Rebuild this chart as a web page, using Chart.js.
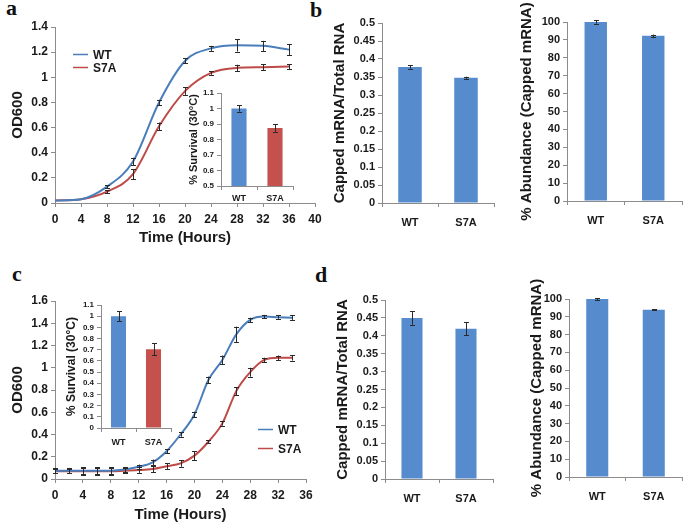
<!DOCTYPE html>
<html>
<head>
<meta charset="utf-8">
<script src="https://cdn.jsdelivr.net/npm/chart.js@4/dist/chart.umd.min.js"></script>
<style>
  body { margin: 0; background: #fff; width: 685px; height: 527px; position: relative; overflow: hidden; }
  canvas { position: absolute; }
  .tag { position: absolute; font: bold 22px "Liberation Serif", "Times New Roman", serif; line-height: 22px; color: #111; }
</style>
</head>
<body>
<div class="tag" style="left:6px;top:-3px">a</div>
<div class="tag" style="left:310px;top:-1px">b</div>
<div class="tag" style="left:12px;top:263px">c</div>
<div class="tag" style="left:315px;top:264px">d</div>
<script>
// ---- data ----
const hoursA = [0, 4, 8, 12, 16, 20, 24, 28, 32, 36];
const wtA = [0.02, 0.03, 0.13, 0.33, 0.80, 1.13, 1.23, 1.255, 1.25, 1.22];
const wtErrA = [0, 0, 0.01, 0.03, 0.02, 0.02, 0.02, 0.05, 0.04, 0.045];
const s7aA = [0.02, 0.03, 0.09, 0.23, 0.61, 0.89, 1.035, 1.075, 1.08, 1.085];
const s7aErrA = [0, 0, 0.01, 0.04, 0.03, 0.03, 0.015, 0.025, 0.025, 0.02];

const hoursC = [0, 2, 4, 6, 8, 10, 12, 14, 16, 18, 20, 22, 24, 26, 28, 30, 32, 34];
const wtC = [0.075, 0.075, 0.075, 0.075, 0.075, 0.085, 0.11, 0.15, 0.25, 0.40, 0.58, 0.89, 1.07, 1.30, 1.43, 1.46, 1.455, 1.45];
const wtErrC = [0.025, 0.025, 0.03, 0.03, 0.03, 0.02, 0.02, 0.025, 0.02, 0.02, 0.025, 0.03, 0.04, 0.07, 0.02, 0.015, 0.015, 0.02];
const s7aC = [0.07, 0.07, 0.07, 0.07, 0.07, 0.075, 0.08, 0.09, 0.115, 0.14, 0.21, 0.335, 0.50, 0.79, 0.96, 1.07, 1.09, 1.09];
const s7aErrC = [0.02, 0.02, 0.03, 0.03, 0.03, 0.02, 0.025, 0.03, 0.025, 0.03, 0.04, 0.015, 0.02, 0.035, 0.04, 0.02, 0.02, 0.025];

const strains = ['WT', 'S7A'];
const survivalA = [1.0, 0.875];
const survivalErrA = [0.02, 0.025];
const survivalC = [1.0, 0.705];
const survivalErrC = [0.045, 0.055];
const ratioB = [0.378, 0.348];
const ratioErrB = [0.005, 0.003];
const abundB = [100, 92.3];
const abundErrB = [0.9, 0.7];
const ratioD = [0.45, 0.42];
const ratioErrD = [0.019, 0.018];
const abundD = [100, 94];
const abundErrD = [0.5, 0.2];

// tick values
const odTicksA = [0, 0.2, 0.4, 0.6, 0.8, 1, 1.2, 1.4];
const hourTicksA = [0, 4, 8, 12, 16, 20, 24, 28, 32, 36, 40];
const survTicksA = [0.5, 0.6, 0.7, 0.8, 0.9, 1, 1.1];
const odTicksC = [0, 0.2, 0.4, 0.6, 0.8, 1, 1.2, 1.4, 1.6];
const hourTicksC = [0, 4, 8, 12, 16, 20, 24, 28, 32, 36];
const survTicksC = [0, 0.1, 0.2, 0.3, 0.4, 0.5, 0.6, 0.7, 0.8, 0.9, 1, 1.1];
const ratioTicks = [0, 0.05, 0.1, 0.15, 0.2, 0.25, 0.3, 0.35, 0.4, 0.45, 0.5];
const abundTicks = [0, 10, 20, 30, 40, 50, 60, 70, 80, 90, 100];

// ---- styling ----
const BLUE_LINE = '#4a7ebb';
const RED_LINE = '#be4b48';
const BLUE_BAR = '#568bcd';
const RED_BAR = '#c4514e';
const AXIS = '#8c8c8c';
Chart.defaults.font.family = '"Liberation Sans", Arial, sans-serif';
Chart.defaults.color = '#1a1a1a';

// error bars drawn from each dataset's errors list
const errorBars = {
    id: 'errorBars',
    afterDatasetsDraw(chart) {
        const ctx = chart.ctx;
        const ys = chart.scales.y;
        chart.data.datasets.forEach((ds, di) => {
            if (!ds.errors) return;
            const meta = chart.getDatasetMeta(di);
            ctx.save();
            ctx.strokeStyle = '#2a2a2a';
            ctx.lineWidth = 1;
            meta.data.forEach((el, i) => {
                const e = ds.errors[i];
                if (!e) return;
                const v = typeof ds.data[i] === 'object' ? ds.data[i].y : ds.data[i];
                const x = Math.round(el.x) + 0.5;
                const yTop = ys.getPixelForValue(v + e);
                const yBot = ys.getPixelForValue(v - e);
                ctx.beginPath();
                ctx.moveTo(x, yTop); ctx.lineTo(x, yBot);
                ctx.moveTo(x - 2.5, Math.round(yTop) + 0.5); ctx.lineTo(x + 2.5, Math.round(yTop) + 0.5);
                ctx.moveTo(x - 2.5, Math.round(yBot) + 0.5); ctx.lineTo(x + 2.5, Math.round(yBot) + 0.5);
                ctx.stroke();
            });
            ctx.restore();
        });
    }
};

// small line legend placed inside the plot area
const lineLegend = {
    id: 'lineLegend',
    afterDraw(chart, args, opts) {
        if (opts.len === undefined) return;
        const ctx = chart.ctx;
        const area = chart.chartArea;
        ctx.save();
        ctx.font = 'bold 12px "Liberation Sans", Arial, sans-serif';
        ctx.textBaseline = 'middle';
        chart.data.datasets.forEach((ds, i) => {
            const y = Math.round(area.top + opts.y + i * opts.gap) + 0.5;
            const x = area.left + opts.x;
            ctx.strokeStyle = ds.borderColor;
            ctx.lineWidth = 1.5;
            ctx.beginPath();
            ctx.moveTo(x, y); ctx.lineTo(x + opts.len, y);
            ctx.stroke();
            ctx.fillStyle = '#1a1a1a';
            ctx.fillText(ds.label, x + opts.len + 5, y + 1);
        });
        ctx.restore();
    }
};

// places a canvas so that the plot area lands on box
function placeCanvas(box, m) {
    const c = document.createElement('canvas');
    c.width = box.x1 - box.x0 + m.l + m.r;
    c.height = box.y1 - box.y0 + m.t + m.b;
    c.style.left = (box.x0 - m.l) + 'px';
    c.style.top = (box.y0 - m.t) + 'px';
    document.body.appendChild(c);
    return c;
}

const fmt = v => String(+Number(v).toFixed(2));

function yAxis(ticksArr, width, title, titleSize, tickSize) {
    return {
        min: ticksArr[0],
        max: ticksArr[ticksArr.length - 1],
        afterBuildTicks: s => { s.ticks = ticksArr.map(v => ({ value: v })); },
        afterFit: s => { s.width = width; s.paddingTop = 0; s.paddingBottom = 0; },
        border: { display: true, color: AXIS },
        grid: { drawOnChartArea: false, drawTicks: true, tickLength: 4, color: AXIS },
        ticks: { padding: 3, autoSkip: false, callback: fmt, font: { weight: 'bold', size: tickSize } },
        title: { display: true, text: title, padding: 0, font: { weight: 'bold', size: titleSize } }
    };
}

function catAxis(height, labelSize, pad) {
    return {
        afterFit: s => { s.height = height; s.paddingLeft = 0; s.paddingRight = 0; },
        border: { display: true, color: AXIS },
        grid: { drawOnChartArea: false, drawTicks: true, tickLength: 4, color: AXIS },
        ticks: { padding: pad, autoSkip: false, font: { weight: 'bold', size: labelSize } }
    };
}

function growthChart(box, m, hours, wt, wtErr, s7a, s7aErr, xTicks, yTicks, legendPos) {
    const canvas = placeCanvas(box, m);
    return new Chart(canvas.getContext('2d'), {
        type: 'line',
        data: {
            datasets: [
                { label: 'WT', data: hours.map((h, i) => ({ x: h, y: wt[i] })), errors: wtErr,
                  borderColor: BLUE_LINE, borderWidth: 2, pointRadius: 0, cubicInterpolationMode: 'monotone' },
                { label: 'S7A', data: hours.map((h, i) => ({ x: h, y: s7a[i] })), errors: s7aErr,
                  borderColor: RED_LINE, borderWidth: 2, pointRadius: 0, cubicInterpolationMode: 'monotone' }
            ]
        },
        options: {
            responsive: false,
            animation: false,
            devicePixelRatio: 1,
            layout: { padding: { left: 0, top: m.t, right: m.r, bottom: 0 } },
            scales: {
                x: {
                    type: 'linear',
                    min: xTicks[0],
                    max: xTicks[xTicks.length - 1],
                    afterBuildTicks: s => { s.ticks = xTicks.map(v => ({ value: v })); },
                    afterFit: s => { s.height = m.b; s.paddingLeft = 0; s.paddingRight = 0; },
                    border: { display: true, color: AXIS },
                    grid: { drawOnChartArea: false, drawTicks: true, tickLength: 4, color: AXIS },
                    ticks: { padding: 5, autoSkip: false, font: { weight: 'bold', size: 12 } },
                    title: { display: true, text: 'Time (Hours)', padding: 0, font: { weight: 'bold', size: 15 } }
                },
                y: yAxis(yTicks, m.l, 'OD600', 15, 12)
            },
            plugins: {
                legend: { display: false },
                tooltip: { enabled: false },
                lineLegend: legendPos
            }
        },
        plugins: [errorBars, lineLegend]
    });
}

function barChart(box, m, values, errs, colors, yTicks, title, sizes, barPct) {
    const canvas = placeCanvas(box, m);
    return new Chart(canvas.getContext('2d'), {
        type: 'bar',
        data: {
            labels: strains,
            datasets: [{ data: values, errors: errs, backgroundColor: colors,
                         categoryPercentage: 1, barPercentage: barPct }]
        },
        options: {
            responsive: false,
            animation: false,
            devicePixelRatio: 1,
            layout: { padding: { left: 0, top: m.t, right: m.r, bottom: 0 } },
            scales: {
                x: catAxis(m.b, sizes.cat, sizes.catPad),
                y: yAxis(yTicks, m.l, title, sizes.title, sizes.tick)
            },
            plugins: { legend: { display: false }, tooltip: { enabled: false } }
        },
        plugins: [errorBars]
    });
}

// panel a
growthChart({ x0: 55, x1: 315, y0: 27, y1: 203 }, { l: 46, t: 10, r: 14, b: 44 },
    hoursA, wtA, wtErrA, s7aA, s7aErrA, hourTicksA, odTicksA, { x: 18, y: 27, gap: 13, len: 15 });
barChart({ x0: 221, x1: 293, y0: 93, y1: 186 }, { l: 34, t: 6, r: 4, b: 16 },
    survivalA, survivalErrA, [BLUE_BAR, RED_BAR], survTicksA, '% Survival (30°C)',
    { title: 11, tick: 8, cat: 9, catPad: 3 }, 0.42);

// panel b
barChart({ x0: 382, x1: 494, y0: 23, y1: 203 }, { l: 51, t: 20, r: 4, b: 30 },
    ratioB, ratioErrB, BLUE_BAR, ratioTicks, 'Capped mRNA/Total RNA',
    { title: 15, tick: 11, cat: 11, catPad: 9 }, 0.42);
barChart({ x0: 567, x1: 682, y0: 22, y1: 201 }, { l: 49, t: 22, r: 3, b: 30 },
    abundB, abundErrB, BLUE_BAR, abundTicks, '% Abundance (Capped mRNA)',
    { title: 15, tick: 11, cat: 11, catPad: 9 }, 0.39);

// panel c
growthChart({ x0: 55, x1: 306, y0: 301, y1: 479 }, { l: 46, t: 10, r: 14, b: 45 },
    hoursC, wtC, wtErrC, s7aC, s7aErrC, hourTicksC, odTicksC, { x: 203, y: 128, gap: 19, len: 15 });
barChart({ x0: 101, x1: 171, y0: 305, y1: 428 }, { l: 37, t: 6, r: 4, b: 18 },
    survivalC, survivalErrC, [BLUE_BAR, RED_BAR], survTicksC, '% Survival (30°C)',
    { title: 12, tick: 8, cat: 9, catPad: 5 }, 0.43);

// panel d
barChart({ x0: 385, x1: 493, y0: 300, y1: 479 }, { l: 51, t: 20, r: 4, b: 28 },
    ratioD, ratioErrD, BLUE_BAR, ratioTicks, 'Capped mRNA/Total RNA',
    { title: 15, tick: 11, cat: 11, catPad: 9 }, 0.39);
barChart({ x0: 569, x1: 682, y0: 299, y1: 477 }, { l: 41, t: 22, r: 3, b: 28 },
    abundD, abundErrD, BLUE_BAR, abundTicks, '% Abundance (Capped mRNA)',
    { title: 15, tick: 11, cat: 11, catPad: 9 }, 0.39);
</script>
</body>
</html>
